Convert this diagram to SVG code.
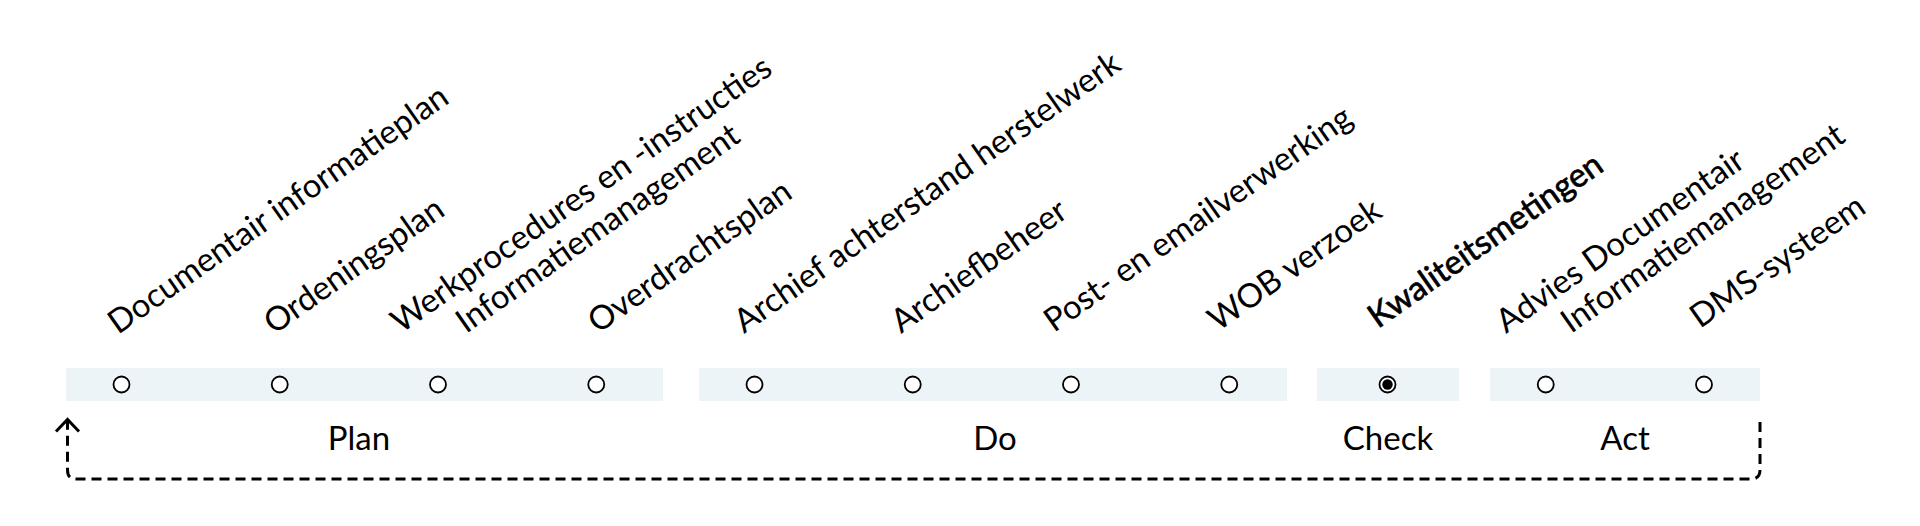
<svg xmlns="http://www.w3.org/2000/svg" width="1920" height="526" viewBox="0 0 1920 526">
<style>
.band{fill:#edf4f8}
.dot{fill:#ffffff;stroke:#000000;stroke-width:1.8}
.lbl{font-family:Lato,"Noto Sans",sans-serif;font-size:33px;fill:#000000}
.phase{font-family:Lato,"Noto Sans",sans-serif;font-size:33px;fill:#000000;text-anchor:middle}
.medium{stroke:#000000;stroke-width:0.7}
.conn{fill:none;stroke:#000000;stroke-width:3;stroke-dasharray:10 6}
</style>
<defs>
<marker id="chev" markerUnits="userSpaceOnUse" markerWidth="30" markerHeight="30" viewBox="-15 -15 30 30" refX="0" refY="0" orient="auto" overflow="visible">
<path d="M-12,-11.5 L0,0 L-12,11.5" fill="none" stroke="#000000" stroke-width="3" stroke-dasharray="none"/>
</marker>
</defs>
<rect width="1920" height="526" fill="#ffffff"/>
<g id="phase-plan">
<rect class="band" x="66" y="368" width="597" height="33"/>
<text class="phase" x="359" y="450">Plan</text>
</g>
<g id="phase-do">
<rect class="band" x="699" y="368" width="588" height="33"/>
<text class="phase" x="995" y="450">Do</text>
</g>
<g id="phase-check">
<rect class="band" x="1317" y="368" width="142" height="33"/>
<text class="phase" x="1388" y="450">Check</text>
</g>
<g id="phase-act">
<rect class="band" x="1490" y="368" width="270" height="33"/>
<text class="phase" x="1625" y="450">Act</text>
</g>
<g id="item-1"><circle class="dot" cx="121.5" cy="384.5" r="8"/><text class="lbl" transform="translate(118,335) rotate(-35)">Documentair informatieplan</text></g>
<g id="item-2"><circle class="dot" cx="279.75" cy="384.5" r="8"/><text class="lbl" transform="translate(274,335) rotate(-35)">Ordeningsplan</text></g>
<g id="item-3"><circle class="dot" cx="438" cy="384.5" r="8"/><text class="lbl" transform="translate(401,334) rotate(-35)">Werkprocedures en -instructies</text><text class="lbl" transform="translate(466,334) rotate(-35)">Informatiemanagement</text></g>
<g id="item-4"><circle class="dot" cx="596.25" cy="384.5" r="8"/><text class="lbl" transform="translate(598,334) rotate(-35)">Overdrachtsplan</text></g>
<g id="item-5"><circle class="dot" cx="754.5" cy="384.5" r="8"/><text class="lbl" transform="translate(744,334) rotate(-35)">Archief achterstand herstelwerk</text></g>
<g id="item-6"><circle class="dot" cx="912.75" cy="384.5" r="8"/><text class="lbl" transform="translate(901,334) rotate(-35)">Archiefbeheer</text></g>
<g id="item-7"><circle class="dot" cx="1071" cy="384.5" r="8"/><text class="lbl" transform="translate(1054,333) rotate(-35)">Post- en emailverwerking</text></g>
<g id="item-8"><circle class="dot" cx="1229.25" cy="384.5" r="8"/><text class="lbl" transform="translate(1218,332) rotate(-35)">WOB verzoek</text></g>
<g id="item-9"><circle class="dot" cx="1387.5" cy="384.5" r="8"/><circle cx="1387.5" cy="384.5" r="5.2" fill="#000000"/><text class="lbl medium" transform="translate(1378,329) rotate(-35)">Kwaliteitsmetingen</text></g>
<g id="item-10"><circle class="dot" cx="1545.75" cy="384.5" r="8"/><text class="lbl" transform="translate(1506,334) rotate(-35)">Advies Documentair</text><text class="lbl" transform="translate(1571,334) rotate(-35)">Informatiemanagement</text></g>
<g id="item-11"><circle class="dot" cx="1704" cy="384.5" r="8"/><text class="lbl" transform="translate(1700,329) rotate(-35)">DMS-systeem</text></g>
<g id="connectors">
<path class="conn" d="M1760,422 V470 Q1760,479 1751,479 H76 Q67.5,479 67.5,470 V419.5" marker-end="url(#chev)"/>
</g>
</svg>
